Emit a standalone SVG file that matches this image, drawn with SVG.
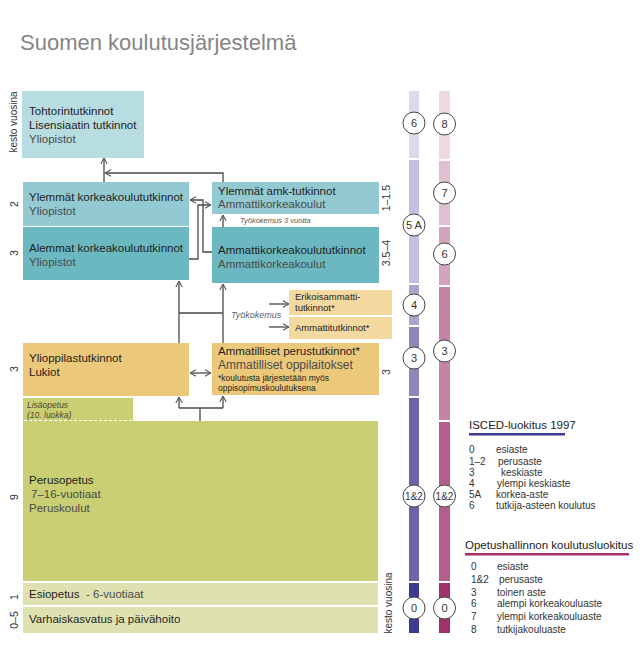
<svg xmlns="http://www.w3.org/2000/svg" width="642" height="666" viewBox="0 0 642 666">
<defs>
<marker id="ah" viewBox="0 0 10 10" refX="9.5" refY="5" markerWidth="8" markerHeight="8" markerUnits="userSpaceOnUse" orient="auto-start-reverse">
<path d="M2,1 L9.5,5 L2,9" fill="none" stroke="#555" stroke-width="1.3"/>
</marker>
</defs>
<style>
text{font-family:"Liberation Sans","Noto Sans",sans-serif}
.t{font-size:11.5px;fill:#1e1e1e}
.s{font-size:11.5px;fill:#4a4a4a}
.sm{font-size:9.5px;fill:#1e1e1e}
.it{font-size:8.5px;font-style:italic;fill:#555}
.yr{font-size:10.5px;fill:#333}
.c{fill:#fff;stroke:#444;stroke-width:1}
.ct{font-size:11px;fill:#333;text-anchor:middle}
.lg{font-size:10px;fill:#333}
.lh{font-size:11.5px;fill:#222}
.cn path{fill:none;stroke:#4a4a4a;stroke-width:1.3}
</style>
<rect width="642" height="666" fill="#fff"/>
<text x="20" y="50" style="font-size:22px;fill:#858585">Suomen koulutusjärjestelmä</text>

<!-- left duration labels -->
<g class="yr">
<text transform="translate(17,122) rotate(-90)" text-anchor="middle" style="font-size:10px">kesto vuosina</text>
<text transform="translate(18,204) rotate(-90)" text-anchor="middle">2</text>
<text transform="translate(18,253) rotate(-90)" text-anchor="middle">3</text>
<text transform="translate(18,369) rotate(-90)" text-anchor="middle">3</text>
<text transform="translate(18,497) rotate(-90)" text-anchor="middle">9</text>
<text transform="translate(18,597) rotate(-90)" text-anchor="middle">1</text>
<text transform="translate(18,620) rotate(-90)" text-anchor="middle">0–5</text>
<text transform="translate(390,198) rotate(-90)" text-anchor="middle">1–1.5</text>
<text transform="translate(390,253) rotate(-90)" text-anchor="middle">3.5–4</text>
<text transform="translate(390,372) rotate(-90)" text-anchor="middle">3</text>
<text transform="translate(392,603) rotate(-90)" text-anchor="middle" style="font-size:10px">kesto vuosina</text>
</g>

<g id="tohtori">
<rect x="22" y="91" width="122" height="67" fill="#b8dde0"/>
<text x="29" y="115" class="t">Tohtorintutkinnot</text>
<text x="29" y="129" class="t">Lisensiaatin tutkinnot</text>
<text x="29" y="143" class="s">Yliopistot</text>
</g>
<g id="ylemmat-kk">
<rect x="23" y="182" width="166" height="44" fill="#93cad2"/>
<text x="29" y="201" class="t">Ylemmät korkeakoulututkinnot</text>
<text x="29" y="215" class="s">Yliopistot</text>
</g>
<g id="alemmat-kk">
<rect x="23" y="227" width="166" height="53" fill="#6cb8c1"/>
<text x="29" y="252" class="t">Alemmat korkeakoulututkinnot</text>
<text x="29" y="266" class="s">Yliopistot</text>
</g>
<g id="ylemmat-amk">
<rect x="212" y="182" width="167" height="32" fill="#93cad2"/>
<text x="218" y="195" class="t">Ylemmät amk-tutkinnot</text>
<text x="218" y="208" class="s">Ammattikorkeakoulut</text>
</g>
<text x="240" y="223" class="it" style="font-size:7.5px">Työkokemus 3 vuotta</text>
<g id="amk">
<rect x="212" y="227" width="167" height="56" fill="#6cb8c1"/>
<text x="218" y="254" class="t">Ammattikorkeakoulututkinnot</text>
<text x="218" y="268" class="s">Ammattikorkeakoulut</text>
</g>
<g id="erikois">
<rect x="289" y="290" width="103" height="25" fill="#f3d9a0"/>
<text x="295" y="300" class="sm">Erikoisammatti-</text>
<text x="295" y="311" class="sm">tutkinnot*</text>
</g>
<g id="ammattitutkinnot">
<rect x="289" y="317" width="103" height="22" fill="#f3d9a0"/>
<text x="295" y="331" class="sm">Ammattitutkinnot*</text>
</g>
<text x="231" y="318" class="it" style="font-size:9px;fill:#5a6270">Työkokemus</text>
<g id="ammatilliset">
<rect x="212" y="343" width="167" height="52" fill="#ecc87a"/>
<text x="218" y="355" class="t">Ammatilliset perustutkinnot*</text>
<text x="218" y="369" class="s" style="font-size:12px">Ammatilliset oppilaitokset</text>
<text x="218" y="381" class="sm" style="font-size:8.5px">*koulutusta järjestetään myös</text>
<text x="218" y="391" class="sm" style="font-size:8.5px">oppisopimuskoulutuksena</text>
</g>
<g id="ylioppilas">
<rect x="23" y="343" width="166" height="53" fill="#ecc87a"/>
<text x="29" y="362" class="t">Ylioppilastutkinnot</text>
<text x="29" y="376" class="t">Lukiot</text>
</g>
<g id="lisaopetus">
<rect x="23" y="398" width="110" height="23" fill="#c9cf72"/>
<text x="27" y="408" class="it" style="fill:#4a4a30">Lisäopetus</text>
<text x="27" y="418" class="it" style="fill:#4a4a30">(10. luokka)</text>
</g>
<g id="perusopetus">
<rect x="23" y="421" width="355" height="160" fill="#c9cf72"/>
<line x1="24" y1="420.5" x2="133" y2="420.5" stroke="#fff" stroke-width="1" stroke-dasharray="3,2"/>
<text x="29" y="484" class="t">Perusopetus</text>
<text x="31" y="498" class="s">7–16-vuotiaat</text>
<text x="29" y="512" class="s">Peruskoulut</text>
</g>
<g id="esiopetus">
<rect x="23" y="583" width="355" height="22" fill="#dfe2b0"/>
<text x="29" y="598" class="t">Esiopetus</text>
<text x="86" y="598" class="s">- 6-vuotiaat</text>
</g>
<g id="varhaiskasvatus">
<rect x="23" y="607" width="355" height="26" fill="#dfe2b0"/>
<text x="29" y="623" class="t">Varhaiskasvatus ja päivähoito</text>
</g>

<g id="connectors" class="cn">
<path d="M104,182 L104,158" marker-end="url(#ah)"/>
<path d="M223,182 L223,173 L105,173" marker-end="url(#ah)"/>
<path d="M212,252 L203,252 L203,200 L190,200" marker-end="url(#ah)"/>
<path d="M189,259 L198,259 L198,205 L211,205" marker-end="url(#ah)"/>
<path d="M223,227 L223,215" marker-end="url(#ah)"/>
<path d="M223,343 L223,284" marker-end="url(#ah)"/>
<path d="M179,343 L179,281" marker-end="url(#ah)"/>
<path d="M179,313 L223,313"/>
<path d="M269,304 L289,304" marker-end="url(#ah)"/>
<path d="M269,327 L289,327" marker-end="url(#ah)"/>
<path d="M190,373 L211,373" marker-start="url(#ah)" marker-end="url(#ah)"/>
<path d="M200,421 L200,408"/>
<path d="M179,408 L223,408"/>
<path d="M179,408 L179,397" marker-end="url(#ah)"/>
<path d="M223,408 L223,396" marker-end="url(#ah)"/>
</g>

<g id="isced-bar">
<rect x="409" y="91" width="10" height="67" fill="#dcdaea"/>
<rect x="409" y="160" width="10" height="123" fill="#c4bfe0"/>
<rect x="409" y="285" width="10" height="40" fill="#a9a4cc"/>
<rect x="409" y="327" width="10" height="69" fill="#8c87bb"/>
<rect x="409" y="398" width="10" height="183" fill="#6b64a8"/>
<rect x="409" y="583" width="10" height="50" fill="#3d3b90"/>
<circle cx="414" cy="123" r="11" class="c"/><text x="414" y="127" class="ct">6</text>
<circle cx="414" cy="225" r="11" class="c"/><text x="414" y="229" class="ct">5 A</text>
<circle cx="414" cy="305" r="11" class="c"/><text x="414" y="309" class="ct">4</text>
<circle cx="414" cy="358" r="11" class="c"/><text x="414" y="362" class="ct">3</text>
<circle cx="414" cy="496" r="11" class="c"/><text x="414" y="500" class="ct" style="font-size:10px">1&amp;2</text>
<circle cx="414" cy="608" r="11" class="c"/><text x="414" y="612" class="ct">0</text>
</g>
<g id="oph-bar">
<rect x="439" y="91" width="11" height="68" fill="#edd8e3"/>
<rect x="439" y="161" width="11" height="64" fill="#e0bfd0"/>
<rect x="439" y="227" width="11" height="58" fill="#d4a3bf"/>
<rect x="439" y="287" width="11" height="133" fill="#c583a8"/>
<rect x="439" y="422" width="11" height="159" fill="#b35f8e"/>
<rect x="439" y="583" width="11" height="50" fill="#a3306e"/>
<circle cx="444.5" cy="124" r="11" class="c"/><text x="444.5" y="128" class="ct">8</text>
<circle cx="444.5" cy="193" r="11" class="c"/><text x="444.5" y="197" class="ct">7</text>
<circle cx="444.5" cy="254" r="11" class="c"/><text x="444.5" y="258" class="ct">6</text>
<circle cx="444.5" cy="351" r="11" class="c"/><text x="444.5" y="355" class="ct">3</text>
<circle cx="444.5" cy="496" r="11" class="c"/><text x="444.5" y="500" class="ct" style="font-size:10px">1&amp;2</text>
<circle cx="444.5" cy="608" r="11" class="c"/><text x="444.5" y="612" class="ct">0</text>
</g>

<g id="legend-isced">
<text x="469" y="429" class="lh">ISCED-luokitus 1997</text>
<rect x="469" y="433" width="96" height="2.5" fill="#3d3b90"/>
<text x="469" y="453" class="lg">0</text><text x="496" y="453" class="lg">esiaste</text>
<text x="469" y="465" class="lg">1–2</text><text x="498" y="465" class="lg">perusaste</text>
<text x="469" y="476" class="lg">3</text><text x="501" y="476" class="lg">keskiaste</text>
<text x="469" y="487" class="lg">4</text><text x="497" y="487" class="lg">ylempi keskiaste</text>
<text x="469" y="498" class="lg">5A</text><text x="496" y="498" class="lg">korkea-aste</text>
<text x="469" y="509" class="lg">6</text><text x="496" y="509" class="lg">tutkija-asteen koulutus</text>
</g>
<g id="legend-oph">
<text x="465" y="549" class="lh">Opetushallinnon koulutusluokitus</text>
<rect x="465" y="553" width="164" height="2.5" fill="#a3306e"/>
<text x="471" y="570" class="lg">0</text><text x="497" y="570" class="lg">esiaste</text>
<text x="471" y="583" class="lg">1&amp;2</text><text x="499" y="583" class="lg">perusaste</text>
<text x="471" y="596" class="lg">3</text><text x="497" y="596" class="lg">toinen aste</text>
<text x="471" y="607" class="lg">6</text><text x="497" y="607" class="lg">alempi korkeakouluaste</text>
<text x="471" y="620" class="lg">7</text><text x="497" y="620" class="lg">ylempi korkeakouluaste</text>
<text x="471" y="633" class="lg">8</text><text x="497" y="633" class="lg">tutkijakouluaste</text>
</g>
</svg>
